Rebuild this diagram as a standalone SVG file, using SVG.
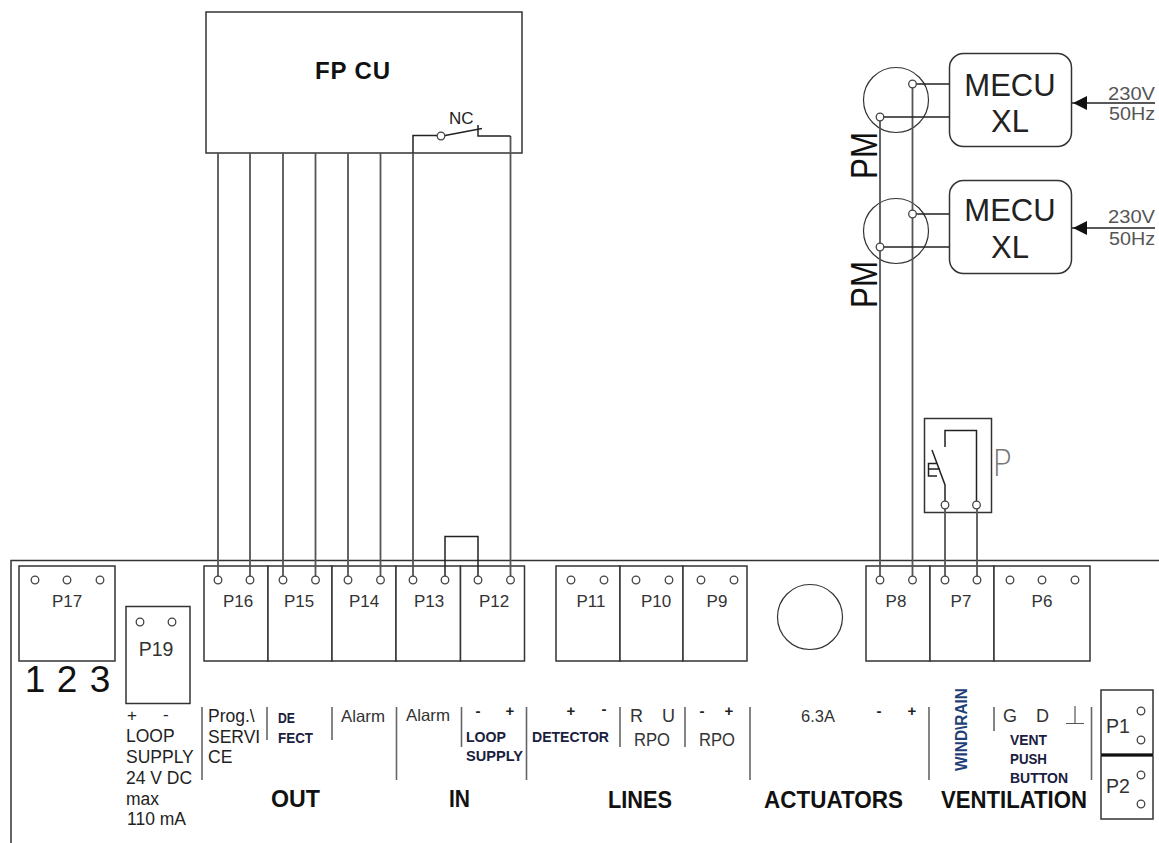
<svg xmlns="http://www.w3.org/2000/svg" width="1159" height="843" viewBox="0 0 1159 843">
<style>
text{font-family:"Liberation Sans",Arial,sans-serif;fill:#222}
.box{fill:#fff;stroke:#333;stroke-width:1.5}
.free{fill:none;stroke:#333;stroke-width:1.5}
.wire{fill:none;stroke:#555;stroke-width:1.8}
.dark{fill:none;stroke:#222;stroke-width:1.5}
.div{fill:none;stroke:#666;stroke-width:1.6}
.t{fill:#fff;stroke:#444;stroke-width:1.3}
.p{font-size:17px;fill:#333;text-anchor:middle}
.n{font-size:17.500px;fill:#222}
.l{font-size:16.500px;fill:#333}
.b{font-size:18px;fill:#333}
.s{font-size:15px;font-weight:bold;fill:#1a2040}
.h{font-size:23px;font-weight:bold;fill:#111}
.sym{font-size:15px;font-weight:bold;fill:#222;text-anchor:middle}
.m{font-size:31px;fill:#222;text-anchor:middle}
.v{font-size:18px;fill:#555}
</style>
<path class="free" d="M11 843V560.500H1159"/>
<g id="fpcu"><rect class="box" x="206" y="12" width="316" height="141"/><text x="315" y="79" font-size="24" font-weight="bold" textLength="75" style="fill:#111">FP CU</text></g>
<g id="mecu1"><rect class="box" x="949.500" y="53.500" width="122" height="93" rx="14"/><text class="m" x="1010" y="96">MECU</text><text class="m" x="1010" y="132">XL</text></g>
<g id="mecu2"><rect class="box" x="949.500" y="180.500" width="122" height="93" rx="14"/><text class="m" x="1010" y="221">MECU</text><text class="m" x="1010" y="258">XL</text></g>
<g id="pm1"><circle class="free" cx="896" cy="100" r="32.500" style="stroke-width:1.2"/><text x="877" y="179" font-size="36" textLength="47" lengthAdjust="spacingAndGlyphs" transform="rotate(-90 877 179)" style="fill:#111">PM</text></g>
<g id="pm2"><circle class="free" cx="896" cy="231" r="32.500" style="stroke-width:1.2"/><text x="877" y="308" font-size="36" textLength="47" lengthAdjust="spacingAndGlyphs" transform="rotate(-90 877 308)" style="fill:#111">PM</text></g>
<g id="supply1"><text class="v" x="1108" y="100" textLength="47" lengthAdjust="spacingAndGlyphs">230V</text><text class="v" x="1109" y="120" textLength="46" lengthAdjust="spacingAndGlyphs">50Hz</text></g>
<g id="supply2"><text class="v" x="1108" y="223" textLength="47" lengthAdjust="spacingAndGlyphs">230V</text><text class="v" x="1109" y="245" textLength="46" lengthAdjust="spacingAndGlyphs">50Hz</text></g>
<g id="pswitch"><rect class="box" x="924.500" y="418.500" width="67" height="94"/><text x="992" y="476" font-size="38" textLength="20" lengthAdjust="spacingAndGlyphs" style="fill:#777;font-family:'DejaVu Sans',sans-serif;font-weight:200">P</text></g>
<g id="P17"><rect class="box" x="19" y="566" width="96" height="95"/><text class="p" x="67" y="607">P17</text></g>
<g id="P19"><rect class="box" x="126" y="606.500" width="64" height="97"/><text class="p" x="156" y="656" style="font-size:19.500px">P19</text></g>
<g id="P16"><rect class="box" x="204" y="566" width="64" height="95"/><text class="p" x="238" y="607">P16</text></g>
<g id="P15"><rect class="box" x="268" y="566" width="64" height="95"/><text class="p" x="299" y="607">P15</text></g>
<g id="P14"><rect class="box" x="332" y="566" width="64" height="95"/><text class="p" x="364" y="607">P14</text></g>
<g id="P13"><rect class="box" x="396" y="566" width="64.500" height="95"/><text class="p" x="429" y="607">P13</text></g>
<g id="P12"><rect class="box" x="460.500" y="566" width="64" height="95"/><text class="p" x="494" y="607">P12</text></g>
<g id="P11"><rect class="box" x="556" y="566" width="64" height="95"/><text class="p" x="591" y="607">P11</text></g>
<g id="P10"><rect class="box" x="620" y="566" width="63" height="95"/><text class="p" x="656" y="607">P10</text></g>
<g id="P9"><rect class="box" x="683" y="566" width="64" height="95"/><text class="p" x="717" y="607">P9</text></g>
<g id="fuse"><circle class="free" cx="810" cy="617" r="32.500" style="stroke-width:1.2"/></g>
<g id="P8"><rect class="box" x="866" y="566" width="64" height="95"/><text class="p" x="896" y="607">P8</text></g>
<g id="P7"><rect class="box" x="930" y="566" width="64" height="95"/><text class="p" x="961" y="607">P7</text></g>
<g id="P6"><rect class="box" x="994" y="566" width="96" height="95"/><text class="p" x="1042" y="607">P6</text></g>
<g id="P1"><rect class="box" x="1101" y="690" width="52" height="64"/><text x="1106" y="733" font-size="19.500" style="fill:#333">P1</text></g>
<g id="P2"><rect class="box" x="1101" y="756" width="52" height="63"/><text x="1106" y="793" font-size="19.500" style="fill:#333">P2</text></g>
<path d="M1101 755H1153" fill="none" stroke="#111" stroke-width="2"/>
<g id="connectors">
<path class="wire" d="M218 153V576M250 153V576M283 153V576M315.500 153V576M348 153V576M380.500 153V576M413 153V576M510.500 136V576"/>
<path class="dark" d="M445 576V536.500H478V576"/>
<path class="dark" d="M413 153V135.500H437M445 135.500L482 128.500M478 125V136H510.500"/>
<path class="wire" d="M880 117V576M912.500 84V576M945 505V576M977 505V576"/>
<path class="dark" d="M912 84H949M880 117H949M912 214H949M880 247H949"/>
<path class="dark" d="M1072 103H1155M1072 228H1155"/>
<path d="M1073 103L1087 96V110ZM1073 228L1087 221V235Z" fill="#111"/>
<path class="dark" d="M945 447V430.500H976.500V505"/>
<path class="dark" d="M932 450L945 485V501M937 463.500H928.500V476H937M928.500 469H940"/>
<g>
<circle class="t" cx="218" cy="580" r="3.800"/><circle class="t" cx="250" cy="580" r="3.800"/><circle class="t" cx="283" cy="580" r="3.800"/><circle class="t" cx="315.500" cy="580" r="3.800"/><circle class="t" cx="348" cy="580" r="3.800"/><circle class="t" cx="380.500" cy="580" r="3.800"/><circle class="t" cx="413" cy="580" r="3.800"/><circle class="t" cx="445" cy="580" r="3.800"/><circle class="t" cx="478" cy="580" r="3.800"/><circle class="t" cx="510.500" cy="580" r="3.800"/>
<circle class="t" cx="35" cy="580" r="3.800"/><circle class="t" cx="67" cy="580" r="3.800"/><circle class="t" cx="100" cy="580" r="3.800"/>
<circle class="t" cx="140" cy="622" r="3.800"/><circle class="t" cx="172" cy="622" r="3.800"/>
<circle class="t" cx="571" cy="580" r="3.800"/><circle class="t" cx="604" cy="580" r="3.800"/><circle class="t" cx="636" cy="580" r="3.800"/><circle class="t" cx="669" cy="580" r="3.800"/><circle class="t" cx="701" cy="580" r="3.800"/><circle class="t" cx="734" cy="580" r="3.800"/>
<circle class="t" cx="880" cy="580" r="3.800"/><circle class="t" cx="912.500" cy="580" r="3.800"/><circle class="t" cx="945" cy="580" r="3.800"/><circle class="t" cx="977" cy="580" r="3.800"/><circle class="t" cx="1010" cy="580" r="3.800"/><circle class="t" cx="1042" cy="580" r="3.800"/><circle class="t" cx="1075" cy="580" r="3.800"/>
<circle class="t" cx="1141" cy="711" r="3.800"/><circle class="t" cx="1141" cy="740" r="3.800"/><circle class="t" cx="1141" cy="775" r="3.800"/><circle class="t" cx="1141" cy="804" r="3.800"/>
<circle class="t" cx="441" cy="136" r="3.800"/><circle class="t" cx="880" cy="117" r="3.800"/><circle class="t" cx="912.500" cy="84" r="3.800"/><circle class="t" cx="880" cy="247" r="3.800"/><circle class="t" cx="912.500" cy="214" r="3.800"/><circle class="t" cx="945" cy="505" r="3.800"/><circle class="t" cx="976.500" cy="505" r="3.800"/>
</g>
</g>
<path class="div" d="M202 707V780M267 707V740M332 707V740M396.500 707V780M461.500 707V747M526.500 707V780M620 707V747M685 707V747M750 707V780M929 707V780M994 707V731M1091.500 707V780"/>
<path d="M1066 723.500H1084M1075 706V723.500" fill="none" stroke="#555" stroke-width="1.200"/>
<g id="labels">
<text x="449" y="124" font-size="17" style="fill:#222">NC</text>
<text x="35" y="692" font-size="37" text-anchor="middle" style="fill:#111">1</text><text x="67" y="692" font-size="37" text-anchor="middle" style="fill:#111">2</text><text x="100" y="692" font-size="37" text-anchor="middle" style="fill:#111">3</text>
<text x="127" y="721" font-size="17">+</text><text x="163" y="720" font-size="17">-</text>
<text class="n" x="126" y="742">LOOP</text><text class="n" x="126" y="763">SUPPLY</text><text class="n" x="126" y="784">24 V DC</text><text class="n" x="126" y="805">max</text><text class="n" x="127" y="825">110 mA</text>
<text class="n" x="208" y="722">Prog.\</text><text class="n" x="208" y="743">SERVI</text><text class="n" x="208" y="763">CE</text>
<text class="s" x="278" y="723" textLength="17" lengthAdjust="spacingAndGlyphs">DE</text><text class="s" x="278" y="743" textLength="35" lengthAdjust="spacingAndGlyphs">FECT</text>
<text class="l" x="341" y="722" textLength="44" lengthAdjust="spacingAndGlyphs">Alarm</text><text class="l" x="406" y="721" textLength="44" lengthAdjust="spacingAndGlyphs">Alarm</text>
<text class="sym" x="478" y="716">-</text><text class="sym" x="510" y="716">+</text>
<text class="s" x="466" y="742" textLength="40" lengthAdjust="spacingAndGlyphs">LOOP</text><text class="s" x="466" y="761" textLength="57" lengthAdjust="spacingAndGlyphs">SUPPLY</text>
<text class="sym" x="571" y="716">+</text><text class="sym" x="604" y="714">-</text>
<text class="s" x="532" y="742" textLength="77" lengthAdjust="spacingAndGlyphs">DETECTOR</text>
<text class="b" x="630" y="722">R</text><text class="b" x="662" y="722">U</text><text class="b" x="634" y="746" textLength="36" lengthAdjust="spacingAndGlyphs">RPO</text>
<text class="sym" x="702" y="716">-</text><text class="sym" x="729" y="716">+</text><text class="b" x="699" y="746" textLength="36" lengthAdjust="spacingAndGlyphs">RPO</text>
<text class="l" x="801" y="722">6.3A</text>
<text class="sym" x="879" y="716">-</text><text class="sym" x="912" y="716">+</text>
<text x="967" y="771" font-size="16" font-weight="bold" transform="rotate(-90 967 771)" textLength="83" lengthAdjust="spacingAndGlyphs" style="fill:#1f3f78">WIND\RAIN</text>
<text class="b" x="1003" y="722">G</text><text class="b" x="1036" y="722">D</text>
<text class="s" x="1010" y="745" textLength="37" lengthAdjust="spacingAndGlyphs">VENT</text><text class="s" x="1010" y="764" textLength="37" lengthAdjust="spacingAndGlyphs">PUSH</text><text class="s" x="1010" y="783" textLength="58" lengthAdjust="spacingAndGlyphs">BUTTON</text>
<text class="h" x="271" y="807" textLength="49" lengthAdjust="spacingAndGlyphs">OUT</text>
<text class="h" x="449" y="807" textLength="21" lengthAdjust="spacingAndGlyphs">IN</text>
<text class="h" x="608" y="808" textLength="64" lengthAdjust="spacingAndGlyphs">LINES</text>
<text class="h" x="764" y="808" textLength="139" lengthAdjust="spacingAndGlyphs">ACTUATORS</text>
<text class="h" x="941" y="808" textLength="146" lengthAdjust="spacingAndGlyphs">VENTILATION</text>
</g>
</svg>
